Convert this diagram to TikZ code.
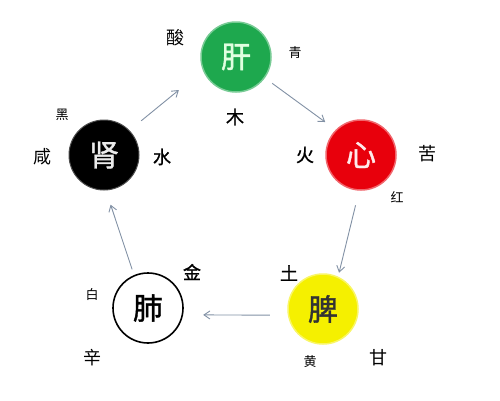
\documentclass[tikz,border=0pt]{standalone}
\usepackage{fontspec}
\setmainfont{Noto Sans CJK SC}
\newfontfamily\semicjk{Noto Sans CJK SC}[FakeBold=1.3]
\usetikzlibrary{arrows.meta}
\definecolor{ganG}{RGB}{30,168,78}
\definecolor{xinR}{RGB}{232,0,12}
\definecolor{piY}{RGB}{245,240,0}
\definecolor{arrC}{RGB}{130,145,165}
\tikzset{
  organ/.style={circle, minimum size=70pt, inner sep=0pt, font=\fontsize{30}{30}\semicjk},
  taste/.style={inner sep=0pt, font=\fontsize{18}{18}\selectfont},
  elem/.style={inner sep=0pt, font=\fontsize{18}{18}\semicjk},
  hue/.style={inner sep=0pt, font=\fontsize{13}{13}\selectfont},
  arr/.style={draw=arrC, line width=0.9pt, -{Straight Barb[length=6pt,width=8pt]}}
}
\begin{document}
\begin{tikzpicture}[x=1pt,y=-1pt]
\useasboundingbox (0,0) rectangle (500,400);
\fill[white] (0,0) rectangle (500,400);
% organs
\node[organ, fill=ganG, draw=ganG!60, line width=1.5pt, text=green!12] (gan) at (236,57) {肝};
\node[organ, fill=xinR, draw=xinR!60, line width=1.5pt, text=red!8] (xin) at (361,155) {心};
\node[organ, fill=piY, draw=piY!60, line width=1.5pt, text=black!80] (pi) at (323,309) {脾};
\node[organ, fill=white, draw=black, line width=1.6pt, text=black] (fei) at (148,308) {肺};
\node[organ, fill=black, draw=black!70, line width=1pt, text=white!92!black] (shen) at (104,155) {肾};
% labels
\node[taste] (suan) at (175,38) {酸};
\node[hue] (qing) at (295,53) {青};
\node[elem] (mu) at (235,117) {木};
\node[hue] (hei) at (62,115) {黑};
\node[taste] (xian) at (42,157) {咸};
\node[elem] (shui) at (162,157) {水};
\node[elem] (huo) at (305,155) {火};
\node[taste] (ku) at (427,154) {苦};
\node[hue] (hong) at (397,197) {红};
\node[elem] (jin) at (192,272) {金};
\node[hue] (bai) at (92,295) {白};
\node[taste] (xin2) at (92,358) {辛};
\node[elem] (tu) at (289,273) {土};
\node[hue] (huang) at (310,362) {黄};
\node[taste] (gantaste) at (378,358) {甘};
% arrows
\draw[arr, shorten <=9pt, shorten >=13pt] (gan.-36) -- (xin.135);
\draw[arr, shorten <=15pt, shorten >=4pt] (xin.-93) -- (pi.65);
\draw[arr, shorten <=18pt, shorten >=20pt] (pi.190) -- (fei.-11);
\draw[arr, shorten <=6pt, shorten >=15pt] (fei.113) -- (shen.-87);
\draw[arr, shorten <=15pt, shorten >=31pt] (shen.44) -- (gan.202);
\end{tikzpicture}
\end{document}
